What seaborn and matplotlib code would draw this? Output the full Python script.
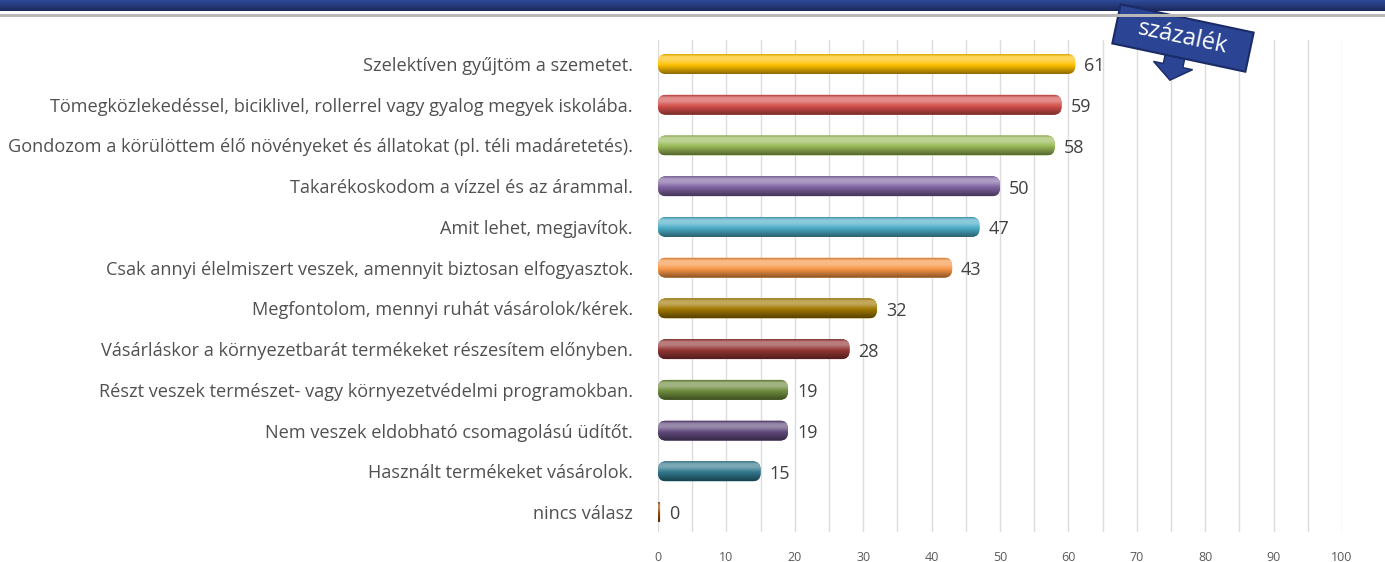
import numpy as np
import pandas as pd
import matplotlib
matplotlib.use("Agg")
import matplotlib.pyplot as plt
import seaborn as sns
from matplotlib.patches import FancyBboxPatch, Rectangle, Polygon
from matplotlib.colors import to_rgb
import matplotlib.transforms as mtransforms

categories = [
    "Szelektíven gyűjtöm a szemetet.",
    "Tömegközlekedéssel, biciklivel, rollerrel vagy gyalog megyek iskolába.",
    "Gondozom a körülöttem élő növényeket és állatokat (pl. téli madáretetés).",
    "Takarékoskodom a vízzel és az árammal.",
    "Amit lehet, megjavítok.",
    "Csak annyi élelmiszert veszek, amennyit biztosan elfogyasztok.",
    "Megfontolom, mennyi ruhát vásárolok/kérek.",
    "Vásárláskor a környezetbarát termékeket részesítem előnyben.",
    "Részt veszek természet- vagy környezetvédelmi programokban.",
    "Nem veszek eldobható csomagolású üdítőt.",
    "Használt termékeket vásárolok.",
    "nincs válasz",
]
values = [61, 59, 58, 50, 47, 43, 32, 28, 19, 19, 15, 0.3]
value_labels = ["61", "59", "58", "50", "47", "43", "32", "28", "19", "19", "15", "0"]
colors = ["#FFC000", "#D4504C", "#9BBB59", "#8064A2", "#4BACC6", "#F79646",
          "#A07800", "#943634", "#6E8B3D", "#5F497A", "#31788C", "#974706"]
xticks = [0, 10, 20, 30, 40, 50, 60, 70, 80, 90, 100]
unit_label = "százalék"

sns.set_theme(style="white")
plt.rcParams["font.family"] = ["Open Sans", "DejaVu Sans"]

W, H = 1385, 562
fig = plt.figure(figsize=(W / 100, H / 100), dpi=100)
ax = fig.add_axes([658 / W, 1 - 532 / H, (1342 - 658) / W, (532 - 40) / H])

df = pd.DataFrame({"cat": categories, "val": values})
sns.barplot(data=df, x="val", y="cat", hue="cat", palette=colors, legend=False,
            width=0.49, ax=ax, orient="h")

ax.set_xlim(0, 100)
ax.set_ylim(11.49, -0.59)
ax.set_xticks(xticks)
ax.set_xticks(np.arange(0, 101, 5), minor=True)
ax.grid(False)
ax.xaxis.grid(True, which="both", color="#DCDCDC", linewidth=1)
ax.set_axisbelow(True)
for s in ax.spines.values():
    s.set_visible(False)
ax.set_xlabel("")
ax.set_ylabel("")
ax.tick_params(axis="x", which="both", length=0, labelsize=9, labelcolor="#595959", pad=14)
ax.tick_params(axis="y", length=0, labelsize=13.1, labelcolor="#505050", pad=18)

# px to data
xpx = 100 / (1342 - 658)
ypx = 12.08 / (532 - 40)

patches = list(ax.patches)
for p, c, lab in zip(patches, colors, value_labels):
    x0, y0 = p.get_x(), p.get_y()
    w, h = p.get_width(), p.get_height()
    p.set_visible(False)
    base = np.array(to_rgb(c))
    r = 8 * xpx
    if w < 2 * r:
        r = w / 2
    fb = FancyBboxPatch((x0, y0), w, h,
                        boxstyle=f"round,pad=0,rounding_size={max(r, 0.05)}",
                        mutation_aspect=ypx / xpx,
                        facecolor=c, edgecolor="none", zorder=3)
    ax.add_patch(fb)
    # vertical gradient (light top, dark bottom); row 0 = visual top
    n = 64
    t = np.linspace(0, 1, n)
    light = np.clip(base + (1 - base) * 0.35, 0, 1)
    dark = base * 0.55
    grad = np.zeros((n, 1, 3))
    for i, tt in enumerate(t):
        if tt < 0.12:
            col = base * 0.85 + (light - base * 0.85) * (tt / 0.12)
        elif tt < 0.3:
            col = light
        elif tt < 0.55:
            col = light + (base - light) * (tt - 0.3) / 0.25
        else:
            col = base + (dark - base) * (tt - 0.55) / 0.45
        grad[i, 0, :] = np.clip(col, 0, 1)
    im = ax.imshow(grad, extent=(x0, x0 + w, y0 + h, y0), aspect="auto",
                   interpolation="bilinear", zorder=4, origin="upper")
    im.set_clip_path(fb)
    ax.text(p.get_width() + 9 * xpx, y0 + h / 2 + 0.06, lab, va="center", ha="left",
            fontsize=13, color="#404040", zorder=5)

ax.set_xlim(0, 100)
ax.set_ylim(11.49, -0.59)

# header band
band = np.linspace(0, 1, 20)
hdr = np.zeros((20, 1, 3))
top = np.array(to_rgb("#2E4A99"))
bot = np.array(to_rgb("#1B2A5C"))
for i, t in enumerate(band):
    hdr[i, 0, :] = top + (bot - top) * t
hax = fig.add_axes([0, 1 - 11 / H, 1, 11 / H])
hax.imshow(hdr, aspect="auto", extent=(0, 1, 0, 1))
hax.set_axis_off()
fig.add_artist(Rectangle((0, 1 - 17 / H), 1, 3 / H, transform=fig.transFigure,
                         facecolor="#B8B8B8", edgecolor="none"))

# százalék tag
tag_ax = fig.add_axes([0, 0, 1, 1], facecolor="none")
tag_ax.set_xlim(0, W)
tag_ax.set_ylim(H, 0)
tag_ax.set_axis_off()
cx, cy = 1183, 38
ang = -12
tr = mtransforms.Affine2D().rotate_deg_around(cx, cy, -ang) + tag_ax.transData
tag_ax.add_patch(Rectangle((cx - 68, cy - 20), 136, 40, facecolor="#2B4594",
                           edgecolor="#1A2B66", linewidth=1.5, transform=tr, zorder=5))
tag_ax.add_patch(Polygon([(cx - 14, cy + 20), (cx + 6, cy + 20), (cx + 6, cy + 29),
                          (cx + 16, cy + 29), (cx - 4, cy + 44), (cx - 24, cy + 29),
                          (cx - 14, cy + 29)], closed=True,
                         facecolor="#2B4594", edgecolor="#1A2B66", transform=tr, zorder=4))
tag_ax.text(cx, cy, unit_label, rotation=ang, rotation_mode="anchor",
            ha="center", va="center", fontsize=17, color="white", zorder=6,
            transform=tag_ax.transData)

fig.savefig("out.png", dpi=100)
